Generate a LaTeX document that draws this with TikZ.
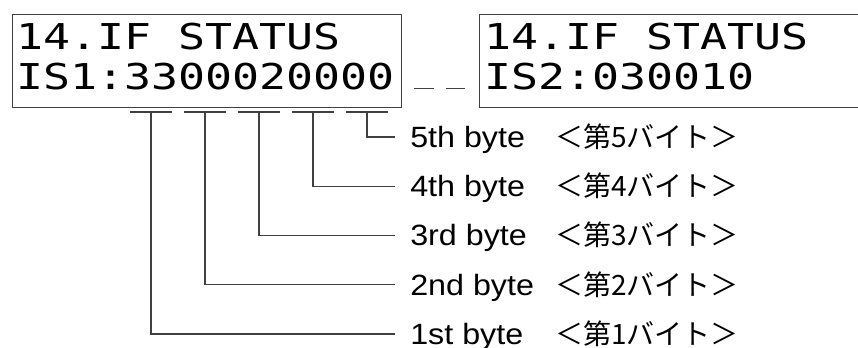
\documentclass[tikz,border=0pt]{standalone}
\usepackage{fontspec}
\usetikzlibrary{calc}
\newfontfamily\lcdfont[FakeStretch=1.26]{DejaVu Sans Mono}
\newfontfamily\lblfont[FakeStretch=1.1]{Liberation Sans}
\newfontfamily\jpfont{Noto Sans CJK JP}

\begin{document}
\begin{tikzpicture}[x=0.75pt, y=-0.75pt,
                screen/.style={draw=black!75, line width=0.8pt, inner sep=0pt, minimum height=69.75pt, anchor=north west},
                lcd/.style={font=\lcdfont\fontsize{26.7pt}{30pt}\selectfont, inner sep=0pt, anchor=base west},
                lbl/.style={font=\lblfont\fontsize{22pt}{24pt}\selectfont, text height=15.75pt, text depth=0pt, inner ysep=0pt, inner xsep=11.25pt, anchor=west},
                wire/.style={draw=black!75, line width=0.8pt},
                gapline/.style={wire, dash pattern=on 15pt off 9pt}
            ]
                \clip (0,0) rectangle (858,348);

                % the two screens
                \node[screen, minimum width=291.75pt] (scr1) at (12,14) {};
                \node[screen, minimum width=293.25pt] (scr2) at (479,14) {};
                \node[lcd] (top1) at (16,50) {14.IF STATUS};
                \node[lcd] (bot1) at (16,90) {IS1:3300020000};
                \node[lcd] (top2) at (484,50) {14.IF STATUS};
                \node[lcd] (bot2) at (484,90) {IS2:030010};
                \draw[gapline] ([xshift=9pt, yshift=15pt]scr1.south east) -- ([xshift=-10.5pt, yshift=15pt]scr2.south west);

                % bytes and their labels
                \foreach \i/\ord in {1/1st, 2/2nd, 3/3rd, 4/4th, 5/5th} {
                    \coordinate (u\i) at ({151+54*(\i-1)}, 112);
                    \node[lbl] (b\i) at (395, {334-49.25*(\i-1)})
                        {\makebox[108.75pt][l]{\ord\ byte}{\jpfont\fontsize{21pt}{23pt}\selectfont ＜第\i バイト＞}};
                    \draw[wire] ([xshift=-16pt]u\i) -- ([xshift=16pt]u\i);
                    \draw[wire] (u\i) |- (b\i.west);
                }
            \end{tikzpicture}
\end{document}
